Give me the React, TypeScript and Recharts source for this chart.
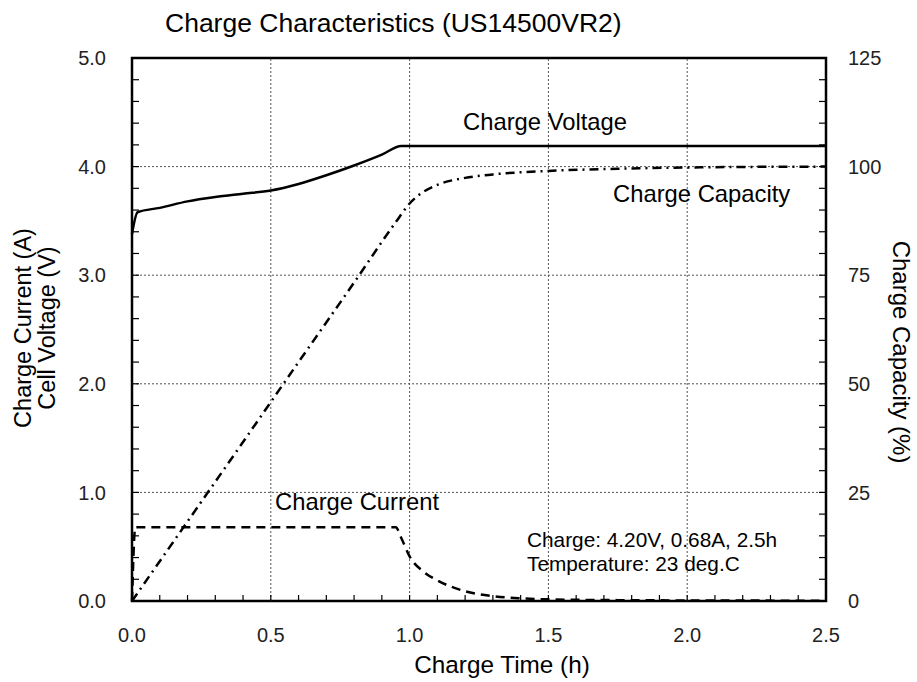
import { LineChart, Line, XAxis, YAxis, ReferenceLine, ReferenceArea } from "recharts";

// charge voltage (V) vs time (h)
const voltageTime = [0, 0.02, 0.1, 0.2, 0.3, 0.4, 0.5, 0.6, 0.7, 0.8, 0.9, 0.97, 1.0, 1.5, 2.0, 2.5];
const voltageValue = [3.38, 3.58, 3.62, 3.68, 3.72, 3.75, 3.78, 3.84, 3.92, 4.01, 4.11, 4.19, 4.19, 4.19, 4.19, 4.19];

// charge current (A) vs time (h)
const currentTime = [0, 0.012, 0.5, 0.95, 0.97, 1.0, 1.05, 1.1, 1.2, 1.3, 1.4, 1.5, 1.75, 2.0, 2.5];
const currentValue = [0, 0.68, 0.68, 0.68, 0.58, 0.41, 0.27, 0.19, 0.09, 0.045, 0.025, 0.015, 0.008, 0.005, 0.003];

// charge capacity (%) vs time (h)
const capacityTime = [0, 0.2, 0.4, 0.6, 0.8, 0.95, 1.0, 1.05, 1.1, 1.2, 1.3, 1.5, 1.75, 2.0, 2.5];
const capacityValue = [0, 18.3, 36.6, 55, 73.3, 87.2, 91.5, 94.2, 95.8, 97.4, 98.2, 99.0, 99.5, 99.8, 100];

const xTicks = [0, 0.1, 0.2, 0.3, 0.4, 0.5, 0.6, 0.7, 0.8, 0.9, 1.0, 1.1, 1.2, 1.3, 1.4, 1.5, 1.6, 1.7, 1.8, 1.9, 2.0, 2.1, 2.2, 2.3, 2.4, 2.5];
const leftTicks = [0, 0.2, 0.4, 0.6, 0.8, 1, 1.2, 1.4, 1.6, 1.8, 2, 2.2, 2.4, 2.6, 2.8, 3, 3.2, 3.4, 3.6, 3.8, 4, 4.2, 4.4, 4.6, 4.8, 5];
const rightTicks = [0, 5, 10, 15, 20, 25, 30, 35, 40, 45, 50, 55, 60, 65, 70, 75, 80, 85, 90, 95, 100, 105, 110, 115, 120, 125];
const xGrid = [0.5, 1.0, 1.5, 2.0];
const yGrid = [1, 2, 3, 4];

const voltageData = voltageTime.map((t, i) => ({ t, v: voltageValue[i] }));
const currentData = currentTime.map((t, i) => ({ t, v: currentValue[i] }));
const capacityData = capacityTime.map((t, i) => ({ t, v: capacityValue[i] }));

const FONT = "'Liberation Sans', Arial, sans-serif";
const LEFT_GAP = 26;
const RIGHT_GAP = 22;
const BOTTOM_GAP = 27;
const TICK_LEN = 7;

const near = (a: number, b: number) => Math.abs(a - b) < 1e-6;

function LeftTick(props: any) {
  const { x, y, payload } = props;
  const edge = x + LEFT_GAP;
  const v = payload.value;
  return (
    <g>
      <line x1={edge} x2={edge + TICK_LEN} y1={y} y2={y} stroke="#000" strokeWidth={1.2} />
      {near(v, Math.round(v)) && (
        <text x={x} y={y} dy="0.36em" textAnchor="end" fontSize={20} fill="#222" fontFamily={FONT}>
          {v.toFixed(1)}
        </text>
      )}
    </g>
  );
}

function RightTick(props: any) {
  const { x, y, payload } = props;
  const edge = x - RIGHT_GAP;
  const v = payload.value;
  return (
    <g>
      <line x1={edge} x2={edge - TICK_LEN} y1={y} y2={y} stroke="#000" strokeWidth={1.2} />
      {v % 25 === 0 && (
        <text x={x} y={y} dy="0.36em" textAnchor="start" fontSize={20} fill="#222" fontFamily={FONT}>
          {v}
        </text>
      )}
    </g>
  );
}

function BottomTick(props: any) {
  const { x, y, payload } = props;
  const edge = y - BOTTOM_GAP;
  const v = payload.value;
  return (
    <g>
      <line x1={x} x2={x} y1={edge} y2={edge - 6} stroke="#000" strokeWidth={1.2} />
      {near(v * 2, Math.round(v * 2)) && (
        <text x={x} y={y} dy="0.72em" textAnchor="middle" fontSize={20} fill="#222" fontFamily={FONT}>
          {v.toFixed(1)}
        </text>
      )}
    </g>
  );
}

export default function App() {
  return (
    <div style={{ position: "absolute", left: 0, top: 0, width: 917, height: 682, background: "#fff", fontFamily: FONT }}>
      <LineChart width={917} height={682} margin={{ top: 58, right: 0, bottom: 0, left: 0 }}>
        <XAxis
          dataKey="t"
          type="number"
          domain={[0, 2.5]}
          ticks={xTicks}
          interval={0}
          height={81}
          tickSize={0}
          tickMargin={BOTTOM_GAP}
          axisLine={false}
          tick={<BottomTick />}
          allowDuplicatedCategory={false}
        />
        <YAxis
          yAxisId="left"
          orientation="left"
          domain={[0, 5]}
          ticks={leftTicks}
          interval={0}
          width={132}
          tickSize={0}
          tickMargin={LEFT_GAP}
          axisLine={false}
          tick={<LeftTick />}
        />
        <YAxis
          yAxisId="right"
          orientation="right"
          domain={[0, 125]}
          ticks={rightTicks}
          interval={0}
          width={91}
          tickSize={0}
          tickMargin={RIGHT_GAP}
          axisLine={false}
          tick={<RightTick />}
        />
        {xGrid.map((g) => (
          <ReferenceLine key={"x" + g} x={g} yAxisId="left" stroke="#555" strokeDasharray="2 2" strokeWidth={1} />
        ))}
        {yGrid.map((g) => (
          <ReferenceLine key={"y" + g} y={g} yAxisId="left" stroke="#555" strokeDasharray="2 2" strokeWidth={1} />
        ))}
        <ReferenceArea x1={0} x2={2.5} y1={0} y2={5} yAxisId="left" fill="none" stroke="#000" strokeWidth={2.5} />
        <Line
          data={voltageData}
          dataKey="v"
          yAxisId="left"
          type="monotone"
          stroke="#000"
          strokeWidth={2.5}
          dot={false}
          isAnimationActive={false}
        />
        <Line
          data={currentData}
          dataKey="v"
          yAxisId="left"
          type="monotone"
          stroke="#000"
          strokeWidth={2.5}
          strokeDasharray="9 6"
          dot={false}
          isAnimationActive={false}
        />
        <Line
          data={capacityData}
          dataKey="v"
          yAxisId="right"
          type="monotone"
          stroke="#000"
          strokeWidth={2.5}
          strokeDasharray="9 5 2 5"
          dot={false}
          isAnimationActive={false}
        />
      </LineChart>
      <svg width={917} height={682} style={{ position: "absolute", left: 0, top: 0, pointerEvents: "none" }} fontFamily={FONT} fill="#000">
        <text x={165} y={32} fontSize={26.5}>Charge Characteristics (US14500VR2)</text>
        <text x={502} y={673} fontSize={24.3} textAnchor="middle">Charge Time (h)</text>
        <text transform="translate(31,328) rotate(-90)" fontSize={23.5} textAnchor="middle">Charge Current (A)</text>
        <text transform="translate(55,328) rotate(-90)" fontSize={23.5} textAnchor="middle">Cell Voltage (V)</text>
        <text transform="translate(893,352) rotate(90)" fontSize={24} textAnchor="middle">Charge Capacity (%)</text>
        <text x={463} y={130} fontSize={23.8}>Charge Voltage</text>
        <text x={613} y={202} fontSize={23.8}>Charge Capacity</text>
        <text x={275} y={510} fontSize={23.8}>Charge Current</text>
        <text x={527} y={547} fontSize={20.8}>Charge: 4.20V, 0.68A, 2.5h</text>
        <text x={527} y={571} fontSize={20.8}>Temperature: 23 deg.C</text>
      </svg>
    </div>
  );
}
